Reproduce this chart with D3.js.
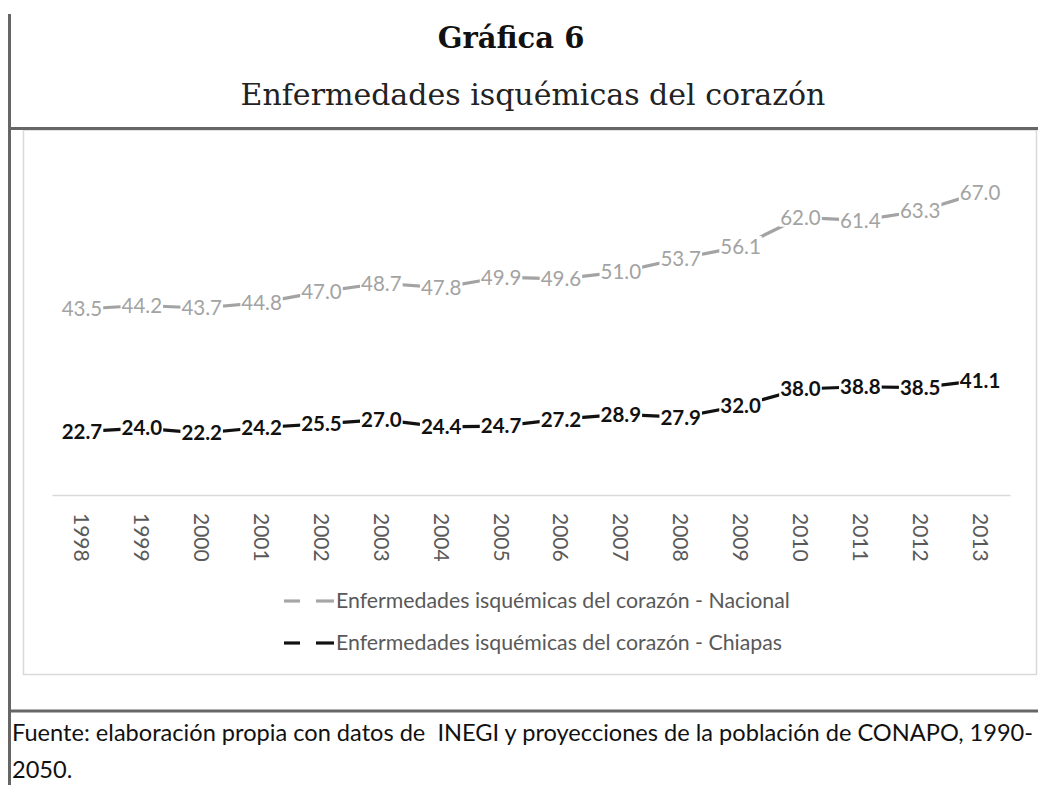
<!DOCTYPE html>
<html><head><meta charset="utf-8">
<script src="https://cdn.jsdelivr.net/npm/d3@7"></script>
<style>body{margin:0;background:#fff}svg{display:block}</style>
</head><body>
<svg id="c" width="1038" height="785"></svg>
<script>
const years = ["1998","1999","2000","2001","2002","2003","2004","2005","2006","2007","2008","2009","2010","2011","2012","2013"];
const nacional = [43.5,44.2,43.7,44.8,47.0,48.7,47.8,49.9,49.6,51.0,53.7,56.1,62.0,61.4,63.3,67.0];
const chiapas = [22.7,24.0,22.2,24.2,25.5,27.0,24.4,24.7,27.2,28.9,27.9,32.0,38.0,38.8,38.5,41.1];
const seriesNames = ["Enfermedades isquémicas del corazón - Nacional","Enfermedades isquémicas del corazón - Chiapas"];
const titleText = "Gráfica 6";
const subtitleText = "Enfermedades isquémicas del corazón";
const sourceLines = ["Fuente: elaboración propia con datos de  INEGI y proyecciones de la población de CONAPO, 1990-","2050."];

const svg = d3.select("#c");
const frame = "#666";

// frame lines
svg.append("line").attr("x1",9.5).attr("x2",9.5).attr("y1",14).attr("y2",785).attr("stroke",frame).attr("stroke-width",3);
svg.append("rect").attr("x",23.5).attr("y",130).attr("width",1013).attr("height",544.5).attr("fill","none").attr("stroke","#d9d9d9").attr("stroke-width",1.5);
svg.append("line").attr("x1",8).attr("x2",1038).attr("y1",128.5).attr("y2",128.5).attr("stroke",frame).attr("stroke-width",3);
svg.append("line").attr("x1",8).attr("x2",1038).attr("y1",711).attr("y2",711).attr("stroke",frame).attr("stroke-width",3);

// titles
svg.append("text").attr("x",511).attr("y",48).attr("text-anchor","middle")
  .attr("font-family","DejaVu Serif").attr("font-weight","bold").attr("font-size",29).attr("fill","#111").text(titleText);
svg.append("text").attr("x",533).attr("y",105).attr("text-anchor","middle")
  .attr("font-family","DejaVu Serif").attr("font-size",30).attr("fill","#222").text(subtitleText);

// scales
const x = d3.scaleBand().domain(years).range([52,1010]).paddingInner(0).paddingOuter(0);
const yNac = d3.scaleLinear().domain([40,70]).range([326.3,177.8]);
const yChi = d3.scaleLinear().domain([0,50]).range([495,355.5]);

// x axis
const ax = svg.append("g").attr("transform","translate(0,495)")
  .call(d3.axisBottom(x).tickSize(0).tickPadding(0));
ax.select(".domain").attr("stroke","#d9d9d9").attr("stroke-width",1.5);
ax.selectAll(".tick text")
  .attr("transform","translate(0,18) rotate(90)")
  .attr("text-anchor","start").attr("dy","0.36em").attr("y",0).attr("x",0)
  .attr("font-family","Lato").attr("font-size",21).attr("fill","#595959");

function drawSeries(vals, y, color, weight){
  const g = svg.append("g");
  g.append("path").datum(vals)
    .attr("d", d3.line().x((d,i)=>x(years[i])+x.bandwidth()/2).y(d=>y(d)))
    .attr("fill","none").attr("stroke",color).attr("stroke-width",3.2);
  const lg = g.selectAll("g.lab").data(vals).join("g").attr("class","lab")
    .attr("transform",(d,i)=>`translate(${x(years[i])+x.bandwidth()/2},${y(d)})`);
  const t = lg.append("text").attr("text-anchor","middle").attr("dy","0.36em")
    .attr("font-family","Lato").attr("font-weight",weight).attr("font-size",20.5).attr("fill",color)
    .text(d=>d.toFixed(1));
  t.each(function(){
    const b = this.getBBox();
    d3.select(this.parentNode).insert("rect","text")
      .attr("x",b.x-1).attr("y",b.y+2).attr("width",b.width+2).attr("height",b.height-4).attr("fill","#fff");
  });
}
drawSeries(nacional, yNac, "#a3a3a3", "normal");
drawSeries(chiapas, yChi, "#111", "bold");

// legend
const legY = [601, 643];
const legCol = ["#a6a6a6","#111"];
seriesNames.forEach((n,i)=>{
  svg.append("line").attr("x1",284).attr("x2",300).attr("y1",legY[i]).attr("y2",legY[i]).attr("stroke",legCol[i]).attr("stroke-width",3.2);
  svg.append("line").attr("x1",316).attr("x2",334).attr("y1",legY[i]).attr("y2",legY[i]).attr("stroke",legCol[i]).attr("stroke-width",3.2);
  svg.append("text").attr("x",336).attr("y",legY[i]).attr("dy","0.35em")
    .attr("font-family","Lato").attr("font-size",21.3).attr("fill","#595959").text(n);
});

// source
sourceLines.forEach((s,i)=>{
  svg.append("text").attr("x",12).attr("y",741+i*37).attr("xml:space","preserve")
    .attr("font-family","Lato").attr("font-size",23.6).attr("fill","#111").text(s);
});
</script>
</body></html>
